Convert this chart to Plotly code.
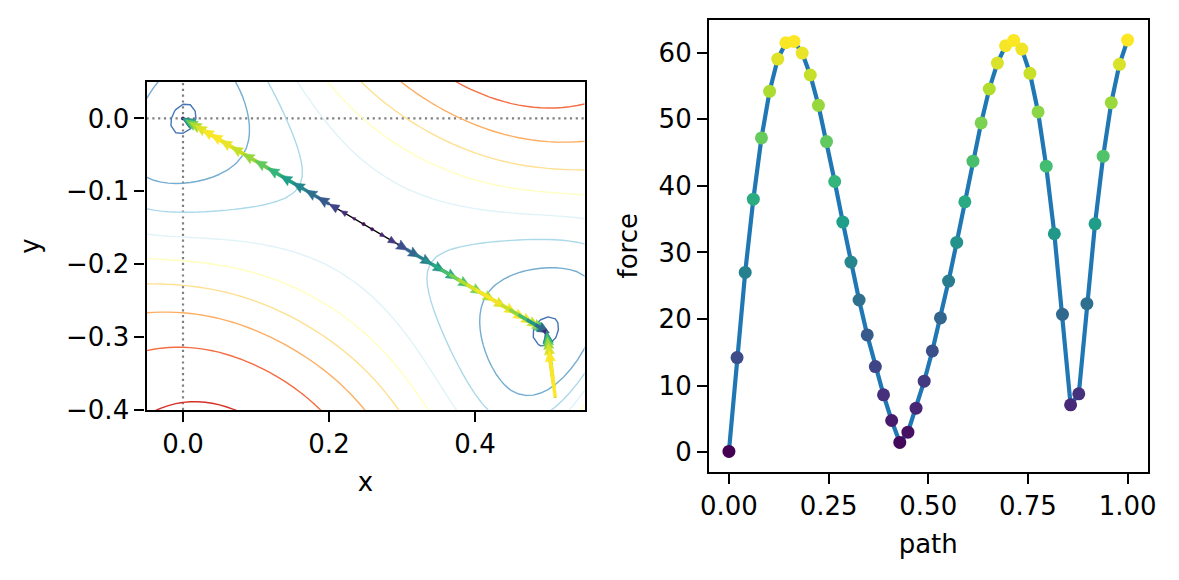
import numpy as np
import plotly.graph_objects as go
from plotly.colors import sample_colorscale

# ---------------- data ----------------
path = [0.0, 0.0204, 0.0408, 0.0612, 0.0816, 0.102, 0.1224, 0.1429, 0.1633, 0.1837,
        0.2041, 0.2245, 0.2449, 0.2653, 0.2857, 0.3061, 0.3265, 0.3469, 0.3673, 0.3878,
        0.4082, 0.4286, 0.449, 0.4694, 0.4898, 0.5102, 0.5306, 0.551, 0.5714, 0.5918,
        0.6122, 0.6327, 0.6531, 0.6735, 0.6939, 0.7143, 0.7347, 0.7551, 0.7755, 0.7959,
        0.8163, 0.8367, 0.8571, 0.8776, 0.898, 0.9184, 0.9388, 0.9592, 0.9796, 1.0]

force = [0.1, 14.2, 27.0, 38.0, 47.2, 54.2, 59.05, 61.5, 61.7, 59.95,
         56.65, 52.1, 46.65, 40.65, 34.55, 28.55, 22.85, 17.6, 12.85, 8.6,
         4.75, 1.45, 3.0, 6.6, 10.65, 15.2, 20.15, 25.7, 31.5, 37.6,
         43.7, 49.45, 54.55, 58.45, 61.05, 61.85, 60.55, 56.9, 51.1, 42.95,
         32.8, 20.7, 7.1, 8.75, 22.3, 34.3, 44.45, 52.5, 58.25, 61.9]

# positions of the path images in the (x, y) plane
image_x = [0.0, 0.0118, 0.0236, 0.0353, 0.0471, 0.0589, 0.0707, 0.0825, 0.0942, 0.1060,
           0.1178, 0.1296, 0.1413, 0.1531, 0.1649, 0.1767, 0.1885, 0.2002, 0.2120, 0.2238,
           0.2356, 0.2474, 0.2591, 0.2709, 0.2827, 0.2945, 0.3062, 0.3180, 0.3298, 0.3416,
           0.3534, 0.3651, 0.3769, 0.3887, 0.4005, 0.4123, 0.4240, 0.4358, 0.4476, 0.4594,
           0.4711, 0.4829, 0.4947, 0.4993, 0.5011, 0.5029, 0.5046, 0.5064, 0.5082, 0.5100]
image_y = [0.0, -0.0069, -0.0138, -0.0207, -0.0276, -0.0345, -0.0414, -0.0483, -0.0553, -0.0622,
           -0.0691, -0.0760, -0.0829, -0.0898, -0.0967, -0.1036, -0.1105, -0.1174, -0.1243, -0.1312,
           -0.1381, -0.1450, -0.1520, -0.1589, -0.1658, -0.1727, -0.1796, -0.1865, -0.1934, -0.2003,
           -0.2072, -0.2141, -0.2210, -0.2279, -0.2348, -0.2417, -0.2487, -0.2556, -0.2625, -0.2694,
           -0.2763, -0.2832, -0.2901, -0.3018, -0.3153, -0.3289, -0.3424, -0.3559, -0.3695, -0.3830]

# +1: force points toward the next image, -1: toward the previous image
force_toward = [1, -1, -1, -1, -1, -1, -1, -1, -1, -1,
                -1, -1, -1, -1, -1, -1, -1, -1, -1, -1,
                -1, -1, 1, 1, 1, 1, 1, 1, 1, 1,
                1, 1, 1, 1, 1, 1, 1, 1, 1, 1,
                1, 1, 1, -1, -1, -1, -1, -1, -1, -1]

# energy surface (two minima joined by a valley), parameters matched to the picture
min1 = (0.0, 0.0)
min2 = (0.498, -0.292)
barrier = 2.425
barrier_shape = 0.9093
barrier_decay = 12.7672
lower_side_scale = 0.9735
valley_stiffness = 41.7325
valley_width_sq = 0.1042
valley_cap = 6.7116
valley_neck = 0.2155
contour_levels = [0.06, 1.05, 2.05, 3.05, 4.05, 5.05, 6.05, 7.05, 8.05]
contour_colors = ["#4575b4", "#74add1", "#abd9e9", "#e0f3f8", "#ffffbf",
                  "#fee090", "#fdae61", "#f46d43", "#d73027"]

x_ticks = [0.0, 0.2, 0.4]
x_ticktext = ["0.0", "0.2", "0.4"]
y_ticks = [0.0, -0.1, -0.2, -0.3, -0.4]
y_ticktext = ["0.0", "\u22120.1", "\u22120.2", "\u22120.3", "\u22120.4"]
path_ticks = [0.0, 0.25, 0.5, 0.75, 1.0]
path_ticktext = ["0.00", "0.25", "0.50", "0.75", "1.00"]
force_ticks = [0, 10, 20, 30, 40, 50, 60]

# ---------------- figure ----------------
W, H = 1179, 580
FONT = dict(family="DejaVu Sans", size=26, color="black")


def potential(X, Y):
    sx, sy = (min1[0] + min2[0]) / 2, (min1[1] + min2[1]) / 2
    dx, dy = min2[0] - min1[0], min2[1] - min1[1]
    dist = np.hypot(dx, dy)
    half = dist / 2
    e1 = (dx / dist, dy / dist)
    e2 = (-e1[1], e1[0])
    u = (X - sx) * e1[0] + (Y - sy) * e1[1]
    v = (X - sx) * e2[0] + (Y - sy) * e2[1]
    t2 = (u / half) ** 2
    F = barrier * (1 - t2) ** 2 * (1 + barrier_shape * t2)
    h = 1.0 / (1.0 + barrier_decay * v ** 2)
    vs = np.where(v < 0, v * lower_side_scale, v)
    raw = valley_stiffness * vs ** 2 / np.sqrt(vs ** 2 + valley_width_sq)
    G = valley_cap * np.tanh(raw / valley_cap)
    G = G * np.maximum(0.2, 1 + valley_neck * (1 - np.minimum(t2, 1)))
    return F * h + G


gx = np.linspace(-0.06, 0.56, 63)
gy = np.linspace(-0.41, 0.06, 48)
GX, GY = np.meshgrid(gx, gy)
Z = potential(GX, GY)

fig = go.Figure()

for lev, col in zip(contour_levels, contour_colors):
    fig.add_trace(go.Contour(
        x=gx, y=gy, z=Z, autocontour=False,
        contours=dict(start=lev, end=lev, size=1, coloring="lines", showlabels=False),
        line=dict(color=col, width=1.4, smoothing=0),
        colorscale=[[0, col], [1, col]], showscale=False, hoverinfo="skip",
        xaxis="x", yaxis="y"))

# path line
fig.add_trace(go.Scatter(x=image_x, y=image_y, mode="lines",
                         line=dict(color="black", width=1.4),
                         xaxis="x", yaxis="y", hoverinfo="skip"))

# quiver arrows coloured by force
fmin, fmax = min(force), max(force)
arrow_cols = sample_colorscale("Viridis", [(f - fmin) / (fmax - fmin) for f in force])
qscale = 0.066 / 62.0
w = 0.004
hw, hl, hal = 0.014, 0.016, 0.0145
n = len(force)
for k in range(n):
    j = k + 1 if force_toward[k] > 0 else k - 1
    j = min(max(j, 0), n - 1)
    tx, ty = image_x[j] - image_x[k], image_y[j] - image_y[k]
    nrm = np.hypot(tx, ty)
    tx, ty = tx / nrm, ty / nrm
    nx, ny = -ty, tx
    L = force[k] * qscale
    if L < w:
        ang = np.linspace(0, 2 * np.pi, 7)
        r = 0.6 * w
        xs = image_x[k] + r * np.cos(ang)
        ys = image_y[k] + r * np.sin(ang)
    else:
        if L < hl:
            s_ = L / hl
            local = [(0, -w / 2 * s_), (0, -hw / 2 * s_), (L, 0), (0, hw / 2 * s_), (0, w / 2 * s_)]
        else:
            local = [(0, -w / 2), (L - hal, -w / 2), (L - hl, -hw / 2), (L, 0),
                     (L - hl, hw / 2), (L - hal, w / 2), (0, w / 2)]
        xs = [image_x[k] + a * tx + b * nx for a, b in local]
        ys = [image_y[k] + a * ty + b * ny for a, b in local]
    fig.add_trace(go.Scatter(x=list(xs), y=list(ys), mode="lines", fill="toself",
                             fillcolor=arrow_cols[k], line=dict(width=0.5, color=arrow_cols[k]),
                             xaxis="x", yaxis="y", hoverinfo="skip"))

# right panel: force along the path
fig.add_trace(go.Scatter(x=path, y=force, mode="lines",
                         line=dict(color="#1f77b4", width=4.2),
                         xaxis="x2", yaxis="y2", hoverinfo="skip"))
fig.add_trace(go.Scatter(x=path, y=force, mode="markers",
                         marker=dict(color=force, colorscale="Viridis", cmin=fmin, cmax=fmax,
                                     size=13, line=dict(width=0)),
                         xaxis="x2", yaxis="y2", hoverinfo="skip"))

fspan = fmax - fmin
axis_common = dict(showline=True, mirror=True, linecolor="black", linewidth=2.2,
                   ticks="outside", ticklen=10, tickwidth=2.2, tickcolor="black",
                   showgrid=False, zeroline=False, tickfont=FONT)

fig.update_layout(
    width=W, height=H, autosize=False, margin=dict(l=0, r=0, t=0, b=0, autoexpand=False),
    paper_bgcolor="white", plot_bgcolor="white", showlegend=False,
    font=FONT,
    xaxis=dict(domain=[146.5 / W, 584.5 / W], range=[-0.05, 0.55],
               tickvals=x_ticks, ticktext=x_ticktext, anchor="y",
               title=dict(text="x", font=FONT, standoff=15), **axis_common),
    yaxis=dict(domain=[1 - 410 / H, 1 - 82 / H], range=[-0.4, 0.05],
               tickvals=y_ticks, ticktext=y_ticktext, anchor="x",
               title=dict(text="y", font=FONT, standoff=19), **axis_common),
    xaxis2=dict(domain=[709 / W, 1147.5 / W], range=[-0.05, 1.05],
                tickvals=path_ticks, ticktext=path_ticktext, anchor="y2",
                title=dict(text="path", font=FONT, standoff=15), **axis_common),
    yaxis2=dict(domain=[1 - 472 / H, 1 - 19.5 / H],
                range=[fmin - 0.05 * fspan, fmax + 0.05 * fspan],
                tickvals=force_ticks, anchor="x2",
                title=dict(text="force", font=FONT, standoff=14), **axis_common),
    shapes=[
        dict(type="line", xref="x", yref="y", x0=0, x1=0, y0=-0.4, y1=0.05,
             line=dict(color="gray", width=2.2, dash="2.2px,3.6px"), layer="below"),
        dict(type="line", xref="x", yref="y", x0=-0.05, x1=0.55, y0=0, y1=0,
             line=dict(color="gray", width=2.2, dash="2.2px,3.6px"), layer="below"),
    ],
)

fig.write_html("out.html", config={"responsive": False})
